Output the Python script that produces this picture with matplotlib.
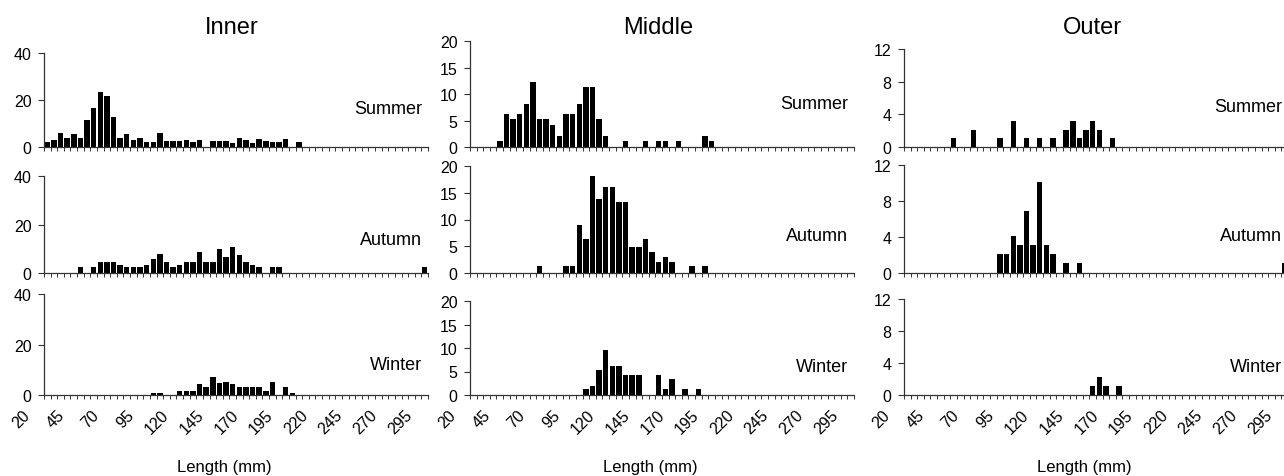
#!/usr/bin/env python3
# length-frequency histograms, inner / middle / outer sites by season
import matplotlib.pyplot as plt
from matplotlib.ticker import FixedLocator, NullLocator
from matplotlib.transforms import blended_transform_factory, offset_copy
import numpy as np

plt.rcParams['font.family'] = ['Liberation Sans', 'DejaVu Sans']

# 5 mm length classes (lower bound, mm)
lengths = list(range(20, 310, 5))
tick_lengths = list(range(20, 300, 25))

sites = ['Inner', 'Middle', 'Outer']
seasons = ['Summer', 'Autumn', 'Winter']

# frequency per length class (classes not listed are 0)
inner_summer = {20: 2, 25: 3, 30: 6, 35: 4, 40: 5.5, 45: 4, 50: 11.5, 55: 16.6,
                60: 23.3, 65: 21.8, 70: 12.9, 75: 4, 80: 5.5, 85: 3, 90: 4,
                95: 2, 100: 2, 105: 6, 110: 2.5, 115: 2.5, 120: 2.5, 125: 3,
                130: 2, 135: 3, 145: 2.5, 150: 2.5, 155: 2.5, 160: 1.5, 165: 4,
                170: 3, 175: 1.5, 180: 3.5, 185: 2.5, 190: 2, 195: 2, 200: 3.5,
                210: 2}
inner_autumn = {45: 2.4, 55: 2.4, 60: 4.5, 65: 4.5, 70: 4.5, 75: 3.1, 80: 2.4,
                85: 2.4, 90: 2.4, 95: 3.1, 100: 5.8, 105: 8.0, 110: 4.5,
                115: 2.4, 120: 3.1, 125: 4.5, 130: 4.5, 135: 8.6, 140: 4.5,
                145: 4.5, 150: 10.1, 155: 6.5, 160: 10.8, 165: 7.3, 170: 4.5,
                175: 3.1, 180: 2.4, 190: 2.4, 195: 2.4, 305: 2.4}
inner_winter = {100: 0.9, 105: 0.8, 120: 1.6, 125: 1.4, 130: 1.6, 135: 4.2,
                140: 3.0, 145: 7.1, 150: 4.9, 155: 5.1, 160: 4.2, 165: 3.0,
                170: 3.0, 175: 3.0, 180: 3.0, 185: 1.6, 190: 5.0, 200: 3.0,
                205: 0.9}

middle_summer = {40: 1.1, 45: 6.2, 50: 5.3, 55: 6.2, 60: 8.2, 65: 12.3, 70: 5.3,
                 75: 5.3, 80: 4.2, 85: 2.1, 90: 6.2, 95: 6.2, 100: 8.2,
                 105: 11.3, 110: 11.3, 115: 5.3, 120: 2.1, 135: 1.1, 150: 1.1,
                 160: 1.1, 165: 1.1, 175: 1.1, 195: 2.1, 200: 1.1}
middle_autumn = {70: 1.3, 90: 1.3, 95: 1.3, 100: 8.9, 105: 6.3, 110: 18.1,
                 115: 13.8, 120: 16.1, 125: 16.1, 130: 13.2, 135: 13.2,
                 140: 4.9, 145: 4.9, 150: 6.3, 155: 3.9, 160: 2.0, 165: 2.9,
                 170: 2.0, 185: 1.3, 195: 1.3}
middle_winter = {105: 1.3, 110: 2.0, 115: 5.4, 120: 9.5, 125: 6.2, 130: 6.2,
                 135: 4.3, 140: 4.3, 145: 4.3, 160: 4.3, 165: 1.3, 170: 3.5,
                 180: 1.3, 190: 1.3}

outer_summer = {55: 1.1, 70: 2.1, 90: 1.1, 100: 3.2, 110: 1.1, 120: 1.1,
                130: 1.1, 140: 2.1, 145: 3.2, 150: 1.1, 155: 2.1, 160: 3.2,
                165: 2.1, 175: 1.1}
outer_autumn = {90: 2.1, 95: 2.1, 100: 4.1, 105: 3.1, 110: 6.9, 115: 3.1,
                120: 10.1, 125: 3.1, 130: 2.1, 140: 1.1, 150: 1.1, 305: 1.1}
outer_winter = {160: 1.1, 165: 2.2, 170: 1.1, 180: 1.1}

data = [[inner_summer, inner_autumn, inner_winter],
        [middle_summer, middle_autumn, middle_winter],
        [outer_summer, outer_autumn, outer_winter]]

ymax = [40, 20, 12]
ystep = [20, 5, 4]

# panel placement in pixels (figure is 1284 x 477)
W, H = 1284, 477
col_left = [44, 470, 904]
panel_w = 384
row_bottom = [148, 274, 396]
panel_top = [[54, 177, 295], [42, 167, 302], [50, 166, 300]]
season_y = [0.41, 0.35, 0.30]

fig = plt.figure(figsize=(W / 100, H / 100), dpi=100)

n = len(lengths)
x = np.arange(n)
for c in range(3):
    for r in range(3):
        top = panel_top[c][r]
        bot = row_bottom[r]
        ax = fig.add_axes([col_left[c] / W, 1 - bot / H,
                           panel_w / W, (bot - top) / H])
        counts = [data[c][r].get(L, 0) for L in lengths]
        ax.bar(x, counts, width=0.82, color='black', linewidth=0)
        ax.set_xlim(-0.5, n - 0.5)
        ax.set_ylim(0, ymax[c])
        ax.set_yticks(np.arange(0, ymax[c] + 1, ystep[c]))
        for s in ['top', 'right']:
            ax.spines[s].set_visible(False)
        for s in ['left', 'bottom']:
            ax.spines[s].set_color('#333333')
            ax.spines[s].set_linewidth(0.9)
        ax.tick_params(axis='y', length=4, width=0.8, color='#333333',
                       labelsize=11.5, pad=5)
        # small tick at every class boundary, no labelled ticks
        ax.xaxis.set_major_locator(NullLocator())
        ax.xaxis.set_minor_locator(FixedLocator(np.arange(-0.5, n, 1)))
        ax.tick_params(axis='x', which='minor', length=3, width=0.7,
                       color='#333333')
        if r == 2:
            # labels every 25 mm, spread a little wider than the classes
            trans = offset_copy(blended_transform_factory(ax.transData, ax.transAxes),
                                fig=fig, x=0, y=-17, units='dots')
            for t in tick_lengths:
                pos = lengths.index(t) * 1.05 - 3.0
                ax.text(pos, 0, str(t), transform=trans, rotation=45,
                        ha='right', va='center', rotation_mode='anchor',
                        fontsize=11.5, clip_on=False)
            fig.text((col_left[c] + panel_w * 0.47) / W, 1 - 468 / H,
                     'Length (mm)', ha='center', va='center', fontsize=12)
        ax.text(0.985, season_y[r], seasons[r], transform=ax.transAxes,
                ha='right', va='center', fontsize=13)
        if r == 0:
            fig.text((col_left[c] + panel_w * 0.49) / W, 1 - 34 / H, sites[c],
                     ha='center', va='baseline', fontsize=17)

fig.savefig('out.png', dpi=100)
